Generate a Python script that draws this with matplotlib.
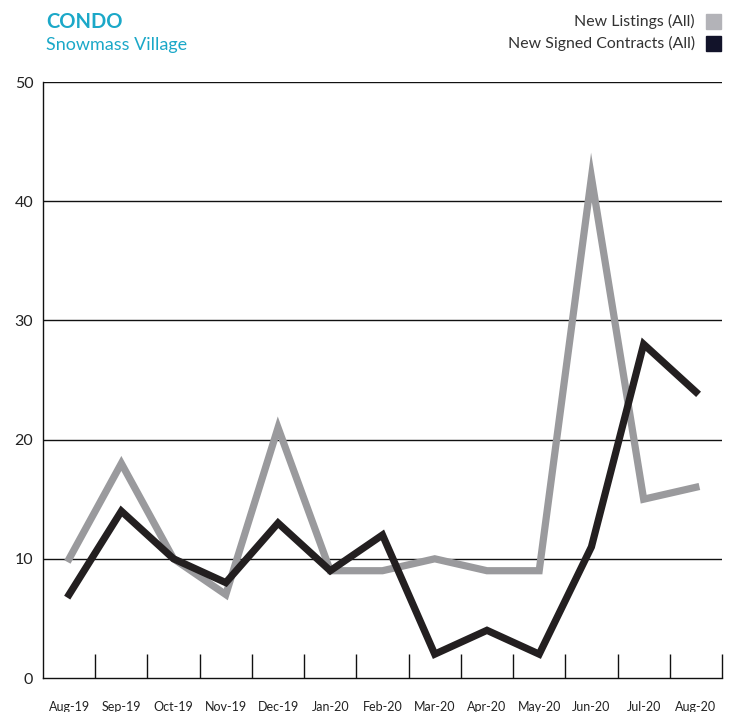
import matplotlib
matplotlib.use("Agg")
import matplotlib.pyplot as plt
from matplotlib.ticker import FixedLocator
from matplotlib.patches import Rectangle

months = ["Aug-19", "Sep-19", "Oct-19", "Nov-19", "Dec-19", "Jan-20", "Feb-20",
          "Mar-20", "Apr-20", "May-20", "Jun-20", "Jul-20", "Aug-20"]
new_listings = [10, 18, 10, 7, 21, 9, 9, 10, 9, 9, 42, 15, 16]
new_contracts = [7, 14, 10, 8, 13, 9, 12, 2, 4, 2, 11, 28, 24]
yticks = [0, 10, 20, 30, 40, 50]

plt.rcParams['font.family'] = ['Lato', 'DejaVu Sans']

W, H = 734, 712
fig = plt.figure(figsize=(W / 100, H / 100), dpi=100)
ax = fig.add_axes([43 / W, (H - 678) / H, (722 - 43) / W, (678 - 82) / H])

x = list(range(len(months)))
ax.plot(x, new_listings, color="#9a9a9d", lw=5.2, solid_joinstyle="miter", zorder=3)
ax.plot(x, new_contracts, color="#231f20", lw=5.2, solid_joinstyle="miter", zorder=4)

ax.set_xlim(-0.5, len(months) - 0.5)
ax.set_ylim(0, 50)

for y in yticks[1:]:
    ax.axhline(y, color="#111111", lw=1.0, zorder=1)

for s in ["top", "right"]:
    ax.spines[s].set_visible(False)
ax.spines["left"].set_color("#111111")
ax.spines["bottom"].set_color("#111111")
ax.spines["left"].set_linewidth(1.0)
ax.spines["bottom"].set_linewidth(1.0)

ax.set_yticks(yticks)
ax.set_yticklabels([str(v) for v in yticks], fontsize=11.5, color="#222222")
ax.tick_params(axis="y", length=0, pad=7)

ax.set_xticks(x)
ax.set_xticklabels(months, fontsize=9, color="#222222")
ax.tick_params(axis="x", which="major", length=0, pad=16.5)
ax.xaxis.set_minor_locator(FixedLocator([i + 0.5 for i in range(len(months))]))
ax.tick_params(axis="x", which="minor", direction="in", length=17, width=1.0, color="#111111")

fig.text(46 / W, 1 - 22 / H, "CONDO", fontsize=14.5, fontweight="bold", color="#1ba8c8", va="center", ha="left")
fig.text(46 / W, 1 - 45 / H, "Snowmass Village", fontsize=13, color="#1ba8c8", va="center", ha="left")

fig.text(695 / W, 1 - 21 / H, "New Listings (All)", fontsize=11.4, color="#333333", va="center", ha="right")
fig.text(695 / W, 1 - 43 / H, "New Signed Contracts (All)", fontsize=11.4, color="#333333", va="center", ha="right")
fig.patches.append(Rectangle((706 / W, 1 - 29 / H), 15 / W, 15 / H, transform=fig.transFigure,
                             color="#b3b3b8", figure=fig))
fig.patches.append(Rectangle((706 / W, 1 - 51 / H), 15 / W, 15 / H, transform=fig.transFigure,
                             color="#12132a", figure=fig))

fig.savefig("out.png", dpi=100)
